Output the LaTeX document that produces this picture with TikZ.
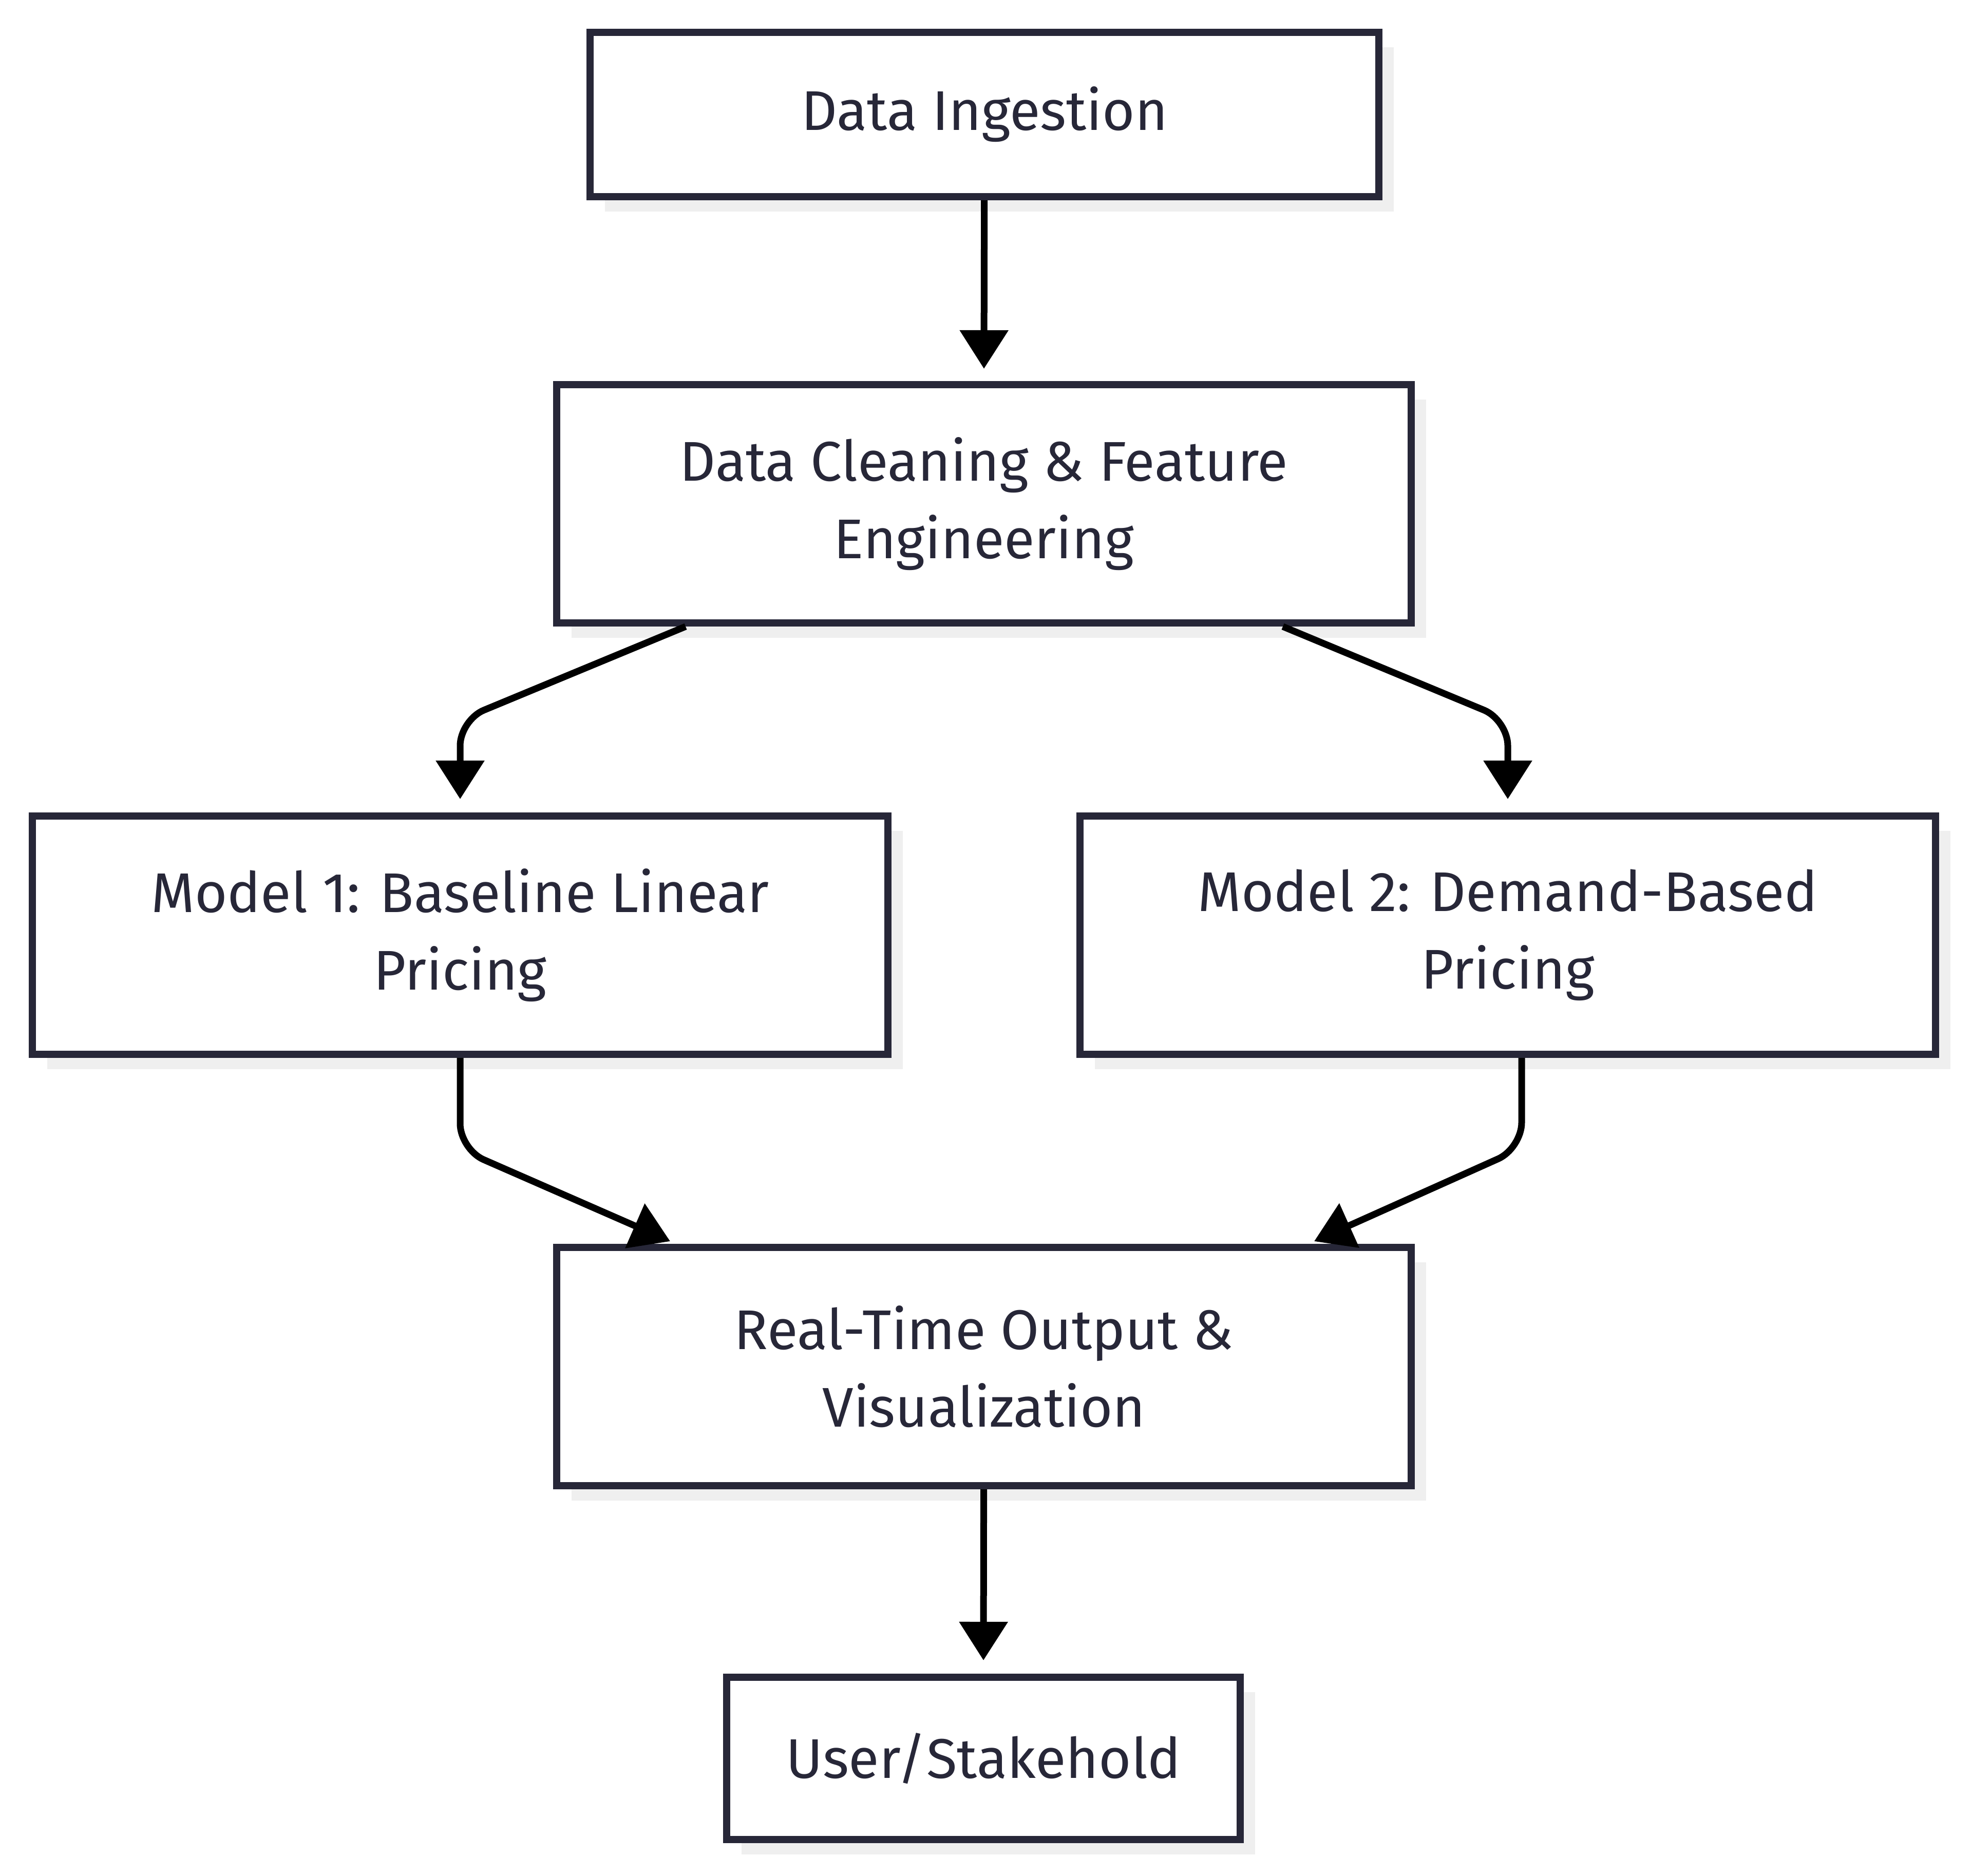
\documentclass[tikz,border=0pt]{standalone}
\usepackage{fontspec}
\setmainfont{Fira Sans}
\usetikzlibrary{arrows.meta, shadows}
\definecolor{boxnavy}{HTML}{272738}
\definecolor{shadowgray}{HTML}{EFEFEF}

\begin{document}
\begin{tikzpicture}[-{Triangle[length=7.5mm, width=9.2mm]}, line width=1.3mm,
               etapa/.style ={rectangle, draw=boxnavy, fill=white, text=boxnavy, line width=1.4mm,
               align=center, inner sep=0pt, font=\fontsize{31}{43}\selectfont,
               drop shadow={shadow xshift=2.9mm, shadow yshift=-2.9mm, fill=shadowgray, opacity=1}}]

           \useasboundingbox (0,0) rectangle (38.4,-36.52);

           % cajas del flujo
           \node[etapa, minimum width=15.36cm, minimum height=3.20cm] (n1) at (19.17, -2.23) {Data Ingestion};
           \node[etapa, minimum width=16.64cm, minimum height=4.64cm] (n2) at (19.16, -9.81) {Data Cleaning \& Feature\\Engineering};
           \node[etapa, minimum width=16.66cm, minimum height=4.64cm] (n3) at (8.96, -18.21) {Model 1: Baseline Linear\\Pricing};
           \node[etapa, minimum width=16.66cm, minimum height=4.64cm] (n4) at (29.36, -18.21) {Model 2: Demand-Based\\Pricing};
           \node[etapa, minimum width=16.64cm, minimum height=4.64cm] (n5) at (19.16, -26.61) {Real-Time Output \&\\Visualization};
           \node[etapa, minimum width=10.00cm, minimum height=3.16cm] (n6) at (19.15, -34.24) {User/Stakehold};

           % flechas
           \draw (n1) -- ([yshift=2.4mm]n2.north);

           \draw[rounded corners=5mm] ([xshift=-5.81cm]n2.south) -- ++(-4.39, -1.82) -- ([yshift=2.6mm]n3.north);
           \draw[rounded corners=5mm] ([xshift=5.82cm]n2.south) -- ++(4.38, -1.82) -- ([yshift=2.6mm]n4.north);

           \draw[rounded corners=5mm] (n3.south) -- ++(0, -1.78) -- ([xshift=-6.11cm, yshift=0.5mm]n5.north);
           \draw[rounded corners=5mm] ([xshift=2.7mm]n4.south) -- ++(0, -1.76) -- ([xshift=6.43cm, yshift=0.5mm]n5.north);

           \draw (n5) -- ([yshift=2.6mm]n6.north);

       \end{tikzpicture}
\end{document}
